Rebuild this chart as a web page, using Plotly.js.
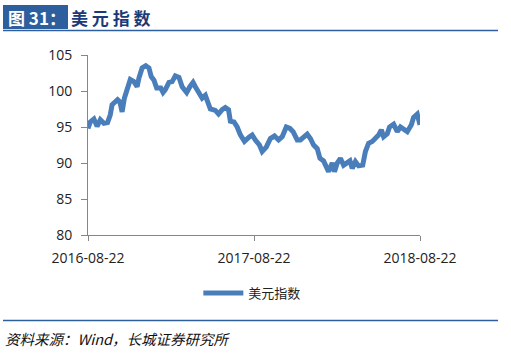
<!DOCTYPE html>
<html>
<head>
<meta charset="utf-8">
<script src="https://cdn.plot.ly/plotly-3.0.1.min.js"></script>
<style>html,body{margin:0;padding:0;background:#fff;}#chart{width:511px;height:358px;}</style>
</head>
<body>
<div id="chart"></div>
<script>
const seriesName = "美元指数";
const dates = [
"2016-08-22","2016-08-27","2016-09-04","2016-09-11","2016-09-18","2016-09-26","2016-10-04","2016-10-10","2016-10-14","2016-10-21","2016-10-26","2016-10-31",
"2016-11-05","2016-11-10","2016-11-16","2016-11-23","2016-12-01","2016-12-08","2016-12-12","2016-12-19","2016-12-27",
"2017-01-03","2017-01-08","2017-01-14","2017-01-20","2017-01-29","2017-02-03","2017-02-08","2017-02-16","2017-02-23",
"2017-03-02","2017-03-10","2017-03-17","2017-03-27","2017-04-03","2017-04-10","2017-04-15","2017-04-23","2017-04-30",
"2017-05-07","2017-05-12","2017-05-18","2017-05-29","2017-06-05","2017-06-13","2017-06-20","2017-06-27","2017-07-01",
"2017-07-09","2017-07-16","2017-07-23","2017-08-01","2017-08-11","2017-08-18","2017-08-25","2017-09-03","2017-09-09",
"2017-09-18","2017-09-27","2017-10-06","2017-10-15","2017-10-23","2017-11-01","2017-11-09","2017-11-16","2017-11-25",
"2017-12-02","2017-12-10","2017-12-17","2017-12-24","2017-12-31","2018-01-08","2018-01-14","2018-01-22","2018-01-28",
"2018-02-02","2018-02-10","2018-02-15","2018-02-21","2018-02-28","2018-03-07","2018-03-15","2018-03-21","2018-03-26",
"2018-04-02","2018-04-09","2018-04-18","2018-04-24","2018-05-01","2018-05-09","2018-05-16","2018-05-23","2018-05-29",
"2018-06-03","2018-06-11","2018-06-16","2018-06-25","2018-07-03","2018-07-10","2018-07-17","2018-07-25","2018-08-03",
"2018-08-08","2018-08-16","2018-08-19","2018-08-22"
];
const values = [
94.8,95.7,96.1,95.1,96.0,95.5,95.6,96.7,98.1,98.4,98.8,98.5,
97.1,99.0,100.1,101.6,101.3,100.6,101.8,103.2,103.5,
103.2,102.0,101.5,100.4,100.4,99.8,100.2,101.2,101.3,
102.1,101.9,100.6,99.8,100.6,101.2,100.6,99.7,99.0,
99.4,98.5,97.5,97.3,96.8,97.4,97.7,97.4,95.8,
95.7,95.0,93.9,93.0,93.6,93.9,93.2,92.5,91.6,
92.2,93.4,93.75,93.2,93.65,95.0,94.8,94.35,93.2,
93.2,93.65,94.0,93.4,92.5,92.0,90.65,90.3,89.25,
88.8,90.0,88.8,90.0,90.65,89.7,90.0,90.3,89.25,
90.2,89.6,89.7,91.6,92.75,93.0,93.4,93.9,94.6,
93.65,94.05,95.0,95.4,94.35,95.0,94.6,94.35,95.3,
96.35,96.8,96.0,95.3
];
const xTicks = ["2016-08-22","2017-08-22","2018-08-22"];
const yTicks = [80,85,90,95,100,105];

// plot area in pixels
const L=88, R=420, T=55, B=235;
const W=R-L, H=B-T;
const px = x => (x-L)/W;
const py = y => (B-y)/H;

const trace = {
  x: dates, y: values, type: 'scatter', mode: 'lines', name: seriesName,
  line: {color: '#4a7ebb', width: 5}
};

const axisFont = {family: '"Open Sans", "Noto Sans CJK SC", sans-serif', size: 14, color: '#222'};

const layout = {
  width: 511, height: 358,
  margin: {l: L, r: 511-R, t: T, b: 358-B, pad: 0},
  paper_bgcolor: '#fff', plot_bgcolor: '#fff',
  showlegend: true,
  legend: {orientation: 'h', x: 0.495, xanchor: 'center', y: py(293), yanchor: 'middle',
           font: {family: '"Noto Sans CJK SC", sans-serif', size: 13, color: '#222'},
           itemwidth: 40, bgcolor: 'rgba(0,0,0,0)'},
  xaxis: {type: 'date', range: ['2016-08-22','2018-08-22'], tickmode: 'array', tickvals: xTicks, ticktext: xTicks,
          showgrid: false, zeroline: false, showline: true, linecolor: '#868686', linewidth: 1,
          ticks: 'outside', ticklen: 5, tickcolor: '#868686', tickfont: axisFont, ticklabelstandoff: 5, fixedrange: true},
  yaxis: {range: [80,105], tickmode: 'array', tickvals: yTicks, showgrid: false, zeroline: false,
          showline: true, linecolor: '#868686', linewidth: 1, ticks: 'outside', ticklen: 6, tickcolor: '#868686',
          tickfont: axisFont, ticklabelstandoff: 6, fixedrange: true},
  shapes: [
    {type: 'rect', xref: 'paper', yref: 'paper', x0: px(3), x1: px(68), y0: py(29), y1: py(5),
     fillcolor: '#2d5f9e', line: {width: 0}},
    {type: 'line', xref: 'paper', yref: 'paper', x0: px(3), x1: px(498), y0: py(30.5), y1: py(30.5),
     line: {color: '#2d5f9e', width: 1.5}},
    {type: 'line', xref: 'paper', yref: 'paper', x0: px(3), x1: px(498), y0: py(320.5), y1: py(320.5),
     line: {color: '#2d5f9e', width: 1.5}}
  ],
  annotations: [
    {xref: 'paper', yref: 'paper', x: px(6), y: py(17), xanchor: 'left', yanchor: 'middle', showarrow: false,
     text: '<b>图 31：</b>', font: {family: '"Noto Sans CJK SC", serif', size: 17, color: '#ffffff'}},
    {xref: 'paper', yref: 'paper', x: px(69), y: py(17), xanchor: 'left', yanchor: 'middle', showarrow: false,
     text: '<b>美 元 指 数</b>', font: {family: '"Noto Sans CJK SC", serif', size: 17, color: '#1a3a78'}},
    {xref: 'paper', yref: 'paper', x: px(3), y: py(338), xanchor: 'left', yanchor: 'middle', showarrow: false,
     text: '<i>资料来源：Wind，长城证券研究所</i>', font: {family: '"Noto Sans CJK SC", serif', size: 14.5, color: '#111'}}
  ]
};

Plotly.newPlot('chart', [trace], layout, {displayModeBar: false, staticPlot: true});
</script>
</body>
</html>
